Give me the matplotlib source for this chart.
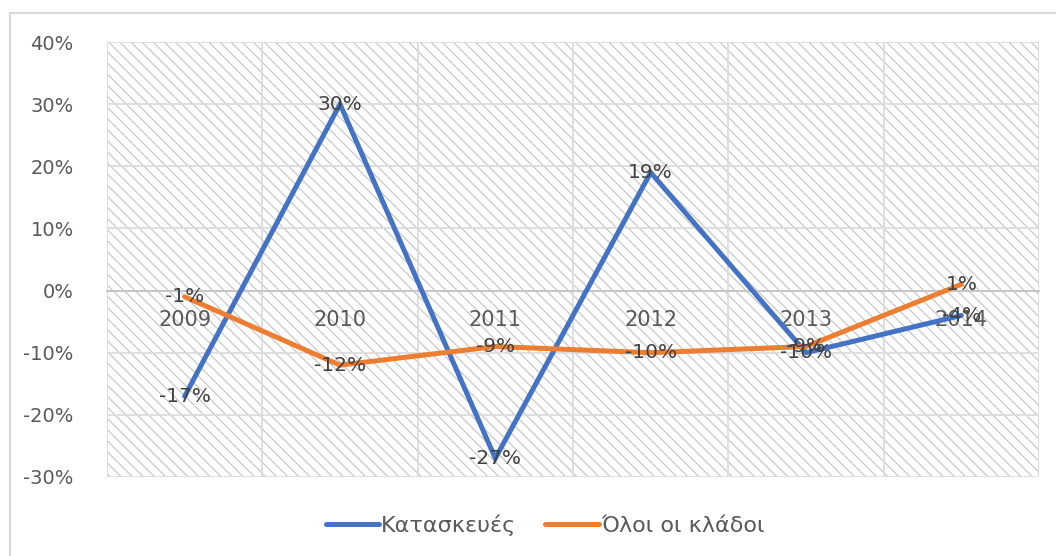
import matplotlib.pyplot as plt
import matplotlib.patches as patches
from matplotlib.ticker import FuncFormatter, FixedLocator
import numpy as np

years = ['2009', '2010', '2011', '2012', '2013', '2014']
construction = [-17, 30, -27, 19, -10, -4]   # Κατασκευές
all_sectors = [-1, -12, -9, -10, -9, 1]      # Όλοι οι κλάδοι

blue = '#4472C4'
orange = '#ED7D31'
grid_col = '#dcdcdc'
text_col = '#595959'
label_col = '#404040'

plt.rcParams['font.family'] = ['DejaVu Sans']
plt.rcParams['hatch.linewidth'] = 0.9

fig = plt.figure(figsize=(10.56, 5.56), dpi=100)
ax = fig.add_axes([107/1056, 1-477/556, (1039-107)/1056, (477-42)/556])

# outer chart frame
fig.patches.append(patches.Rectangle((10/1056, -0.1), 1.2, 1-13/556+0.1,
                                     transform=fig.transFigure, fill=False,
                                     edgecolor='#d9d9d9', linewidth=1.5, zorder=0))

# hatched plot area
ax.add_patch(patches.Rectangle((0, 0), 1, 1, transform=ax.transAxes, fill=False,
                               hatch='\\\\\\', edgecolor='#c9c9c9', linewidth=0, zorder=0))

x = np.arange(len(years))
ax.plot(x, construction, color=blue, linewidth=3.6, label='Κατασκευές', zorder=3,
        solid_capstyle='round', solid_joinstyle='miter')
ax.plot(x, all_sectors, color=orange, linewidth=3.6, label='Όλοι οι κλάδοι', zorder=3,
        solid_capstyle='round', solid_joinstyle='miter')

for xi, v in zip(x, construction):
    ax.text(xi, v, '{}%'.format(v), ha='center', va='center', fontsize=14.5,
            color=label_col, zorder=4)
for xi, v in zip(x, all_sectors):
    ax.text(xi, v, '{}%'.format(v), ha='center', va='center', fontsize=14.5,
            color=label_col, zorder=4)

ax.set_xlim(-0.5, len(years) - 0.5)
ax.set_ylim(-30, 40)
ax.set_yticks(np.arange(-30, 41, 10))
ax.yaxis.set_major_formatter(FuncFormatter(lambda v, p: '{:.0f}%'.format(v)))
ax.set_xticks(x)
ax.set_xticklabels(years)
ax.xaxis.set_minor_locator(FixedLocator(np.arange(-0.5, len(years), 1.0)))

ax.grid(axis='y', which='major', color=grid_col, linewidth=1.3, zorder=1)
ax.grid(axis='x', which='minor', color=grid_col, linewidth=1.3, zorder=1)
ax.set_axisbelow(True)

for s in ['top', 'right', 'left']:
    ax.spines[s].set_visible(False)
ax.spines['bottom'].set_position(('data', 0))
ax.spines['bottom'].set_color('#c4c4c4')
ax.spines['bottom'].set_linewidth(1.3)

ax.tick_params(axis='x', which='both', length=0, pad=14, labelsize=15, labelcolor=text_col)
ax.tick_params(axis='y', length=0, pad=24, labelsize=14, labelcolor=text_col)

fig.legend(*ax.get_legend_handles_labels(), loc='center',
           bbox_to_anchor=(545/1056, 1-525/556), ncol=2, frameon=False,
           fontsize=16, labelcolor=text_col,
           handlelength=2.4, handletextpad=0.1, columnspacing=1.3)

fig.savefig('out.png', dpi=100)
